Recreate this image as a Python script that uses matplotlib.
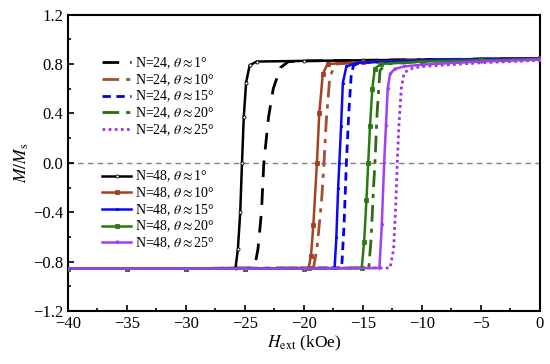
import matplotlib
matplotlib.use("Agg")
import matplotlib.pyplot as plt
from matplotlib.ticker import MultipleLocator

plt.rcParams["font.family"] = ["Liberation Serif", "DejaVu Serif"]
plt.rcParams["mathtext.fontset"] = "stix"

# N=24 curves (dashed family)
h24_1 = [-40, -30, -24.2, -23.9, -23.6, -23.4, -23.0, -22.6, -22.0, -21.3, -20, -10, 0]
m24_1 = [-0.855, -0.855, -0.85, -0.7, -0.4, 0.0, 0.37, 0.6, 0.77, 0.82, 0.825, 0.835, 0.845]
h24_10 = [-40, -30, -19.2, -18.9, -18.5, -18.3, -18.1, -17.8, -17.3, -15, -10, 0]
m24_10 = [-0.855, -0.855, -0.85, -0.7, -0.3, 0.0, 0.35, 0.7, 0.8, 0.815, 0.83, 0.845]
h24_15 = [-40, -30, -16.8, -16.6, -16.4, -16.2, -16.0, -15.8, -15.2, -10, 0]
m24_15 = [-0.855, -0.855, -0.85, -0.5, 0.0, 0.4, 0.7, 0.79, 0.81, 0.83, 0.845]
h24_20 = [-40, -30, -14.5, -14.3, -14.1, -13.98, -13.8, -13.55, -13.0, -10, 0]
m24_20 = [-0.855, -0.855, -0.85, -0.6, -0.2, 0.0, 0.4, 0.75, 0.8, 0.82, 0.84]
h24_25 = [-40, -30, -12.7, -12.4, -12.2, -12.09, -11.95, -11.75, -11.5, -11.0, -10, -5, 0]
m24_25 = [-0.855, -0.855, -0.85, -0.7, -0.3, 0.0, 0.3, 0.6, 0.73, 0.76, 0.78, 0.81, 0.83]

# N=48 curves (solid with markers)
h48_1 = [-40, -35, -30, -25.8, -25.6, -25.4, -25.25, -25.1, -24.9, -24.6, -24.0, -20, -15, -10, -5, 0]
m48_1 = [-0.855, -0.855, -0.855, -0.85, -0.7, -0.4, 0.0, 0.37, 0.65, 0.79, 0.82, 0.825, 0.83, 0.835, 0.84, 0.845]
h48_10 = [-40, -35, -30, -25, -19.6, -19.4, -19.2, -18.9, -18.7, -18.4, -18.0, -15, -10, -5, 0]
m48_10 = [-0.855, -0.855, -0.855, -0.855, -0.85, -0.75, -0.5, 0.0, 0.4, 0.72, 0.8, 0.815, 0.83, 0.84, 0.845]
h48_15 = [-40, -35, -30, -25, -20, -17.4, -17.25, -17.1, -17.0, -16.85, -16.7, -16.4, -15.5, -10, -5, 0]
m48_15 = [-0.855, -0.855, -0.855, -0.855, -0.855, -0.85, -0.6, -0.2, 0.0, 0.3, 0.65, 0.78, 0.81, 0.83, 0.84, 0.845]
h48_20 = [-40, -35, -30, -25, -20, -15.1, -14.9, -14.7, -14.55, -14.4, -14.2, -14.0, -13.5, -10, -5, 0]
m48_20 = [-0.855, -0.855, -0.855, -0.855, -0.855, -0.85, -0.64, -0.3, 0.0, 0.3, 0.6, 0.76, 0.8, 0.82, 0.83, 0.84]
h48_25 = [-40, -35, -30, -25, -20, -13.6, -13.4, -13.2, -13.05, -12.9, -12.7, -12.3, -11.5, -10, -5, 0]
m48_25 = [-0.855, -0.855, -0.855, -0.855, -0.855, -0.85, -0.5, 0.0, 0.3, 0.6, 0.72, 0.76, 0.78, 0.795, 0.82, 0.835]

lab24 = [r"N=24, $\theta\approx$1°", r"N=24, $\theta\approx$10°", r"N=24, $\theta\approx$15°",
         r"N=24, $\theta\approx$20°", r"N=24, $\theta\approx$25°"]
lab48 = [r"N=48, $\theta\approx$1°", r"N=48, $\theta\approx$10°", r"N=48, $\theta\approx$15°",
         r"N=48, $\theta\approx$20°", r"N=48, $\theta\approx$25°"]

fig = plt.figure(figsize=(5.5, 3.64), dpi=100)
ax = fig.add_axes([0.1236, 0.145, 0.858, 0.815])

ax.axhline(0, color="#808080", ls=(0, (4, 3)), lw=1.0, zorder=1)

c24 = ["black", "#a0522d", "#0000ee", "#2e6b12", "#9933ee"]
ls24 = [(0, (6, 4)), (0, (6, 2.5, 1.5, 2.5)), (0, (3, 2)), (0, (6, 2.5, 1.5, 2.5)), (0, (1, 1.2))]
curves24 = [(h24_1, m24_1), (h24_10, m24_10), (h24_15, m24_15), (h24_20, m24_20), (h24_25, m24_25)]
l24 = []
for (h, m), c, ls, lab in zip(curves24, c24, ls24, lab24):
    ln, = ax.plot(h, m, color=c, ls=ls, lw=2.0, label=lab, zorder=3)
    l24.append(ln)

c48 = ["black", "#a8401f", "#0a0af0", "#2a7a10", "#a040f0"]
mk48 = ["o", "s", "*", "s", "v"]
curves48 = [(h48_1, m48_1), (h48_10, m48_10), (h48_15, m48_15), (h48_20, m48_20), (h48_25, m48_25)]
l48 = []
for (h, m), c, mk, lab in zip(curves48, c48, mk48, lab48):
    mfc = "white" if mk == "o" else c
    ln, = ax.plot(h, m, color=c, ls="-", lw=1.8, marker=mk, ms=2.2,
                  mfc=mfc, mec=c, mew=0.6, label=lab, zorder=4)
    l48.append(ln)

leg_kw = dict(loc="upper left", frameon=False, fontsize=10, handlelength=2.1,
              handletextpad=0.3, labelspacing=0.07, borderaxespad=0, borderpad=0)
leg1 = ax.legend(handles=l24, bbox_to_anchor=(0.072, 0.862), **leg_kw)
ax.add_artist(leg1)
ax.legend(handles=l48, bbox_to_anchor=(0.072, 0.48), **leg_kw)

ax.set_xlim(-40, 0)
ax.set_ylim(-1.2, 1.2)
ax.xaxis.set_major_locator(MultipleLocator(5))
ax.xaxis.set_minor_locator(MultipleLocator(2.5))
ax.yaxis.set_major_locator(MultipleLocator(0.4))
ax.yaxis.set_minor_locator(MultipleLocator(0.2))
ax.tick_params(which="both", direction="in", labelsize=12, width=1.2)
ax.tick_params(which="major", length=4)
ax.tick_params(which="minor", length=2.5)
ax.set_yticks([-1.2, -0.8, -0.4, 0.0, 0.4, 0.8, 1.2])
ax.set_yticklabels(["−1.2", "−0.8", "−0.4", "0.0", "0.4", "0.8", "1.2"])
for s in ax.spines.values():
    s.set_linewidth(1.5)

ax.set_xlabel(r"$H_{\mathrm{ext}}$ (kOe)", fontsize=12.5, labelpad=1)
ax.set_ylabel(r"$M/M_{\mathrm{s}}$", fontsize=12.5, labelpad=1)

fig.savefig("out.png", dpi=100)
